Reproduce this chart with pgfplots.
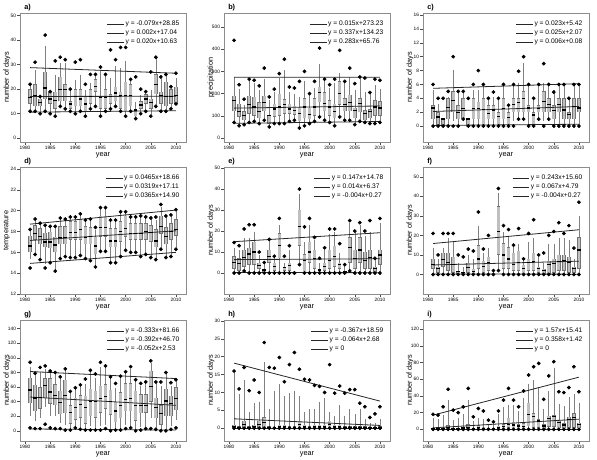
\documentclass[border=0pt]{standalone}
\usepackage{fontspec}
\setmainfont{Liberation Sans}
\usepackage{pgfplots}
\usepackage{pgfplotstable}
\pgfplotsset{compat=1.18}

\newcommand\tickfont{\fontsize{3.6}{4.2}\selectfont}
\newcommand\labfont{\fontsize{5.5}{6.5}\selectfont}
\newcommand\legfont{\fontsize{5}{6}\selectfont}

\pgfplotsset{
 panel/.style={scale only axis, width=124.5pt, xmin=1979, xmax=2012,
   xtick={1980,1985,...,2010}, tick align=outside, tick pos=left,
   major tick length=2pt,
   axis line style={black!45, line width=0.4pt},
   tick style={black!70, line width=0.4pt},
   tick label style={font=\tickfont, inner sep=0.8pt},
   /pgf/number format/1000 sep={}, /pgf/number format/assume math mode=true,
   xlabel={year}, ylabel={number of days},
   every axis x label/.style={at={(axis description cs:0.5,0)}, anchor=center, yshift=-9.75pt, font=\labfont},
   every axis y label/.style={at={(axis description cs:-0.079,0.5)}, rotate=90, anchor=center, font=\labfont},
   every axis title/.style={at={(axis description cs:0,1)}, anchor=south west, font=\bfseries\fontsize{5.5}{6}\selectfont, inner sep=1pt, xshift=2pt},
   legend style={draw=none, fill=none, at={(axis description cs:1,1)}, anchor=north east, xshift=-1pt, yshift=-3pt, font=\legfont, row sep=0pt, nodes={inner sep=0.8pt}},
   legend cell align=left,
   legend image code/.code={\draw[##1] (0pt,0pt) -- (12.5pt,0pt);},
 },
 trend/.style={black!85, line width=0.6pt, mark=none},
 ebonly/.style={draw=none, mark=none, forget plot},
}

\newcommand\drawboxes[1]{%
  % whiskers
  \addplot[ebonly,
    error bars/.cd, y dir=both, y explicit,
    error bar style={draw=black!50, line width=0.4pt},
    error mark options={draw=black!50, line width=0.4pt, mark size=1.15pt}]
    table[x=yr, y=med, y error plus expr=\thisrow{uw}-\thisrow{med}, y error minus expr=\thisrow{med}-\thisrow{lw}] {#1};
  % box outline
  \addplot[ebonly,
    error bars/.cd, y dir=plus, y explicit,
    error mark options={opacity=0, mark size=0pt},
    error bar style={draw=black!55, line width=2.7pt}]
    table[x=yr, y=q1, y error plus expr=\thisrow{q3}-\thisrow{q1}] {#1};
  % box fill
  \addplot[ebonly,
    error bars/.cd, y dir=plus, y explicit,
    error mark options={opacity=0, mark size=0pt},
    error bar style={draw=black!25, line width=2.0pt, shorten <=0.35pt, shorten >=0.35pt}]
    table[x=yr, y=q1, y error plus expr=\thisrow{q3}-\thisrow{q1}] {#1};
  % median
  \addplot[only marks, mark=-, mark size=1.35pt, black, mark options={line width=1pt}, forget plot]
    table[x=yr, y=med] {#1};
  % extreme points
  \addplot[only marks, mark=*, mark size=1.2pt, black, forget plot] table[x=yr, y=hi] {#1};
  \addplot[only marks, mark=*, mark size=1.2pt, black, forget plot] table[x=yr, y=lo] {#1};
}

\pgfplotstableread{
yr lo lw q1 med q3 uw hi
1981 11 12 14 16.5 20 22 22
1982 11 11 13 17.5 22 27 31
1983 10 11 13 14.5 16 17 17
1984 11 11 16 20.5 27 37 42
1985 10 11 14 16 19 19 19
1986 9 10 12 15.5 19 25 31.5
1987 13 13 15 20 25 30 33
1988 12 12 15 20 22 30 32
1989 11 11 12 14 15 20 20
1990 10 10 13 17 20 23 31
1991 11 11 13 16 20 25 32
1992 9 9 11 14 17 19 22
1993 12 12 14 17 20 22 26
1994 13 13 19 21 24 25 26
1995 9 10 12 16.5 17 27 29
1996 11 11 12 16.5 20 26 26
1997 12 12 14 17 18 24 36
1998 13 13 15 18.5 21 29 32
1999 11 11 12 17.5 19 28 37
2000 9 10 11 17.5 23 31 37
2001 11 11 13 17.5 22 24 24
2002 8 8 9 11.5 12 14 25
2003 10 10 12 13.5 15 17 20
2004 11 11 14 16 18 19 19
2005 9 10 12 14.5 16 19 27
2006 13 13 18 22 26 33 33
2007 11 11 14 17.5 19 25 25
2008 11 11 13 17 23 26 26
2009 12 12 14 17 20 21 21
2010 14 14 14 17.5 21 24 26.5
}\dA

\pgfplotstableread{
yr lo lw q1 med q3 uw hi
1981 70 85 120 170 190 270 440
1982 55 65 95 120 155 215 240
1983 60 65 80 100 120 140 175
1984 70 75 110 150 190 250 265
1985 75 75 100 140 185 240 260
1986 65 65 90 120 160 210 235
1987 80 90 120 160 190 260 315
1988 50 55 65 100 105 165 185
1989 65 70 95 130 155 200 220
1990 65 75 100 140 200 265 290
1991 65 70 110 150 175 300 355
1992 75 80 110 130 155 200 230
1993 80 80 105 125 145 190 225
1994 45 55 75 110 135 180 255
1995 55 60 90 140 180 250 300
1996 65 70 85 105 135 200 200
1997 75 80 100 140 180 220 255
1998 95 100 160 205 230 325 405
1999 80 85 120 155 205 250 265
2000 70 75 100 140 170 220 240
2001 55 65 90 120 155 240 265
2002 95 100 150 200 255 285 395
2003 80 80 120 150 180 240 255
2004 80 85 120 160 195 270 315
2005 60 65 90 125 135 210 245
2006 75 80 115 155 180 270 275
2007 70 70 80 110 125 200 270
2008 65 70 90 120 130 205 205
2009 65 70 100 140 170 230 265
2010 70 70 100 135 165 215 260
}\dB

\pgfplotstableread{
yr lo lw q1 med q3 uw hi
1981 0 0 1 2.6 3 5 6
1982 0 0 0 1.3 2 3 4
1983 0 0 0 1 1 1 4
1984 0 0 1 2.7 4 4 5
1985 0 1 2 3.7 5 7.8 10
1986 0 0 1 2 3 5 5
1987 1 1 1 2.5 4 5 5
1988 0 0 0 1 1 1 4
1989 0 0 1 2.5 4 5 6
1990 0 0 1 2.5 3.5 5 8
1991 0 0 0 2.4 4 6 6
1992 0 0 1 1.8 3 4 4
1993 0 0 1 2.3 3 4 4.9
1994 0 0 0 1.4 2 4 4
1995 0 0 1 2.5 4 6 6
1996 0 0 0 1.2 2 3 3
1997 0 1 2 3.1 4 6 6
1998 1 1 2 3.4 4 6 7.9
1999 1 1 2 4 5 8.8 10
2000 0 0 2 2.6 3 6 6
2001 0 0 0 1.6 2 4 4
2002 1 1 2 2.5 3 6 6
2003 0 1 2 3.5 5 6 9
2004 1 1 2 3.1 4 6 6
2005 0 0 1 2.2 3 5 4.9
2006 0 0 2 3.1 4 6 6
2007 0 0 1 2.3 4 6 6
2008 0 0 1 1.7 2 4 4
2009 0 0 1 2.8 4 6 6
2010 0 0 2 2.6 4 6 6
}\dC

\pgfplotstableread{
yr lo lw q1 med q3 uw hi
1981 14.5 15.5 16 16.6 17.6 18 18.2
1982 15.8 16 17.2 17.8 18.6 19 19.2
1983 15.3 15.5 16.8 17.5 18.3 18.8 18.8
1984 14.5 15 16.5 17 17.9 18.5 18.6
1985 15 15.2 16.4 17 18 18.4 18.5
1986 14.2 14.5 16 16.7 17.5 18.2 18.5
1987 15.4 15.5 16.8 17.4 18.5 19.2 19.3
1988 15.6 15.6 16.8 17.4 18.5 19 19.2
1989 15.5 15.6 17.2 17.9 19 19.4 19.4
1990 15.5 15.6 17.2 17.9 19 19.4 19.4
1991 15.7 15.8 17.2 18.2 19.2 19.6 19.7
1992 15.4 15.5 16.8 17.4 18.5 19 19.1
1993 15.2 15.4 16.8 17.5 18.4 19 19.2
1994 14.6 14.8 15.8 16.6 17.5 18 18.4
1995 16.1 16.2 17.5 18.4 19.5 20.2 20.3
1996 16.1 16.2 17.5 18.4 19.5 20.2 20.3
1997 15 15.2 16.5 17.1 18.3 19 19.1
1998 15 15.2 16.5 17.1 18.3 19 19.1
1999 15.6 15.8 17 18 19 19.8 19.9
2000 16.2 16.3 17.5 18.3 19.5 19.8 19.9
2001 16 16 17.2 17.8 18.8 19.4 19.4
2002 16 16 17.2 17.8 18.8 19.4 19.4
2003 15.6 15.8 17.2 17.8 18.8 19.5 19.5
2004 15.8 15.9 17.2 18 18.8 19.4 19.4
2005 15.5 15.6 17 17.9 18.6 19.3 19.3
2006 15.3 15.4 16.5 17.1 18.2 19 19.4
2007 16.3 16.5 17.8 18.5 19.5 20.2 20.6
2008 15.5 15.6 16.8 17.5 18.4 19.4 19.5
2009 15.6 15.7 17.2 18 18.8 19.5 19.6
2010 16.3 16.5 17.6 18.2 19.2 20 20.1
}\dD

\pgfplotstableread{
yr lo lw q1 med q3 uw hi
1981 0 0 2 5 8 11 14.5
1982 0 0 1 4.5 7 10 13
1983 1 1 3 7.5 11 16 21
1984 0 0 4 9 12 16 23
1985 0 0 4 10 15 19 23
1986 0 0 2 3.5 5 8 10
1987 0 0 0 1.5 2 4 5
1988 0 0 5 8 11 15 16
1989 0 0 1 3 5 7 8
1990 0 1 7 13 19 22 26
1991 0 0 1 2.5 3 4 8
1992 0 0 1 3.5 5 10 13
1993 0 0 0 0 0 0 0
1994 4 5 13 22 30 37 40
1995 0 0 0 6 9 14 22
1996 0 0 5 10 15 22 26
1997 0 0 2 7 11 15 17
1998 0 0 0 1.5 2 4 7
1999 0 0 1 3 5 10 12
2000 0 0 2 6 11 18 21
2001 0 0 3 8 13 19 21
2002 0 0 2 4 5 9 14
2003 0 0 0 0.5 1 3 4
2004 1 1 5 12 17 23 25
2005 0 0 2 7 11 19 20
2006 0 0 5 11 17 22 24
2007 0 0 2 6 10 17 20
2008 0 0 2 7.5 11 19 25
2009 0 0 0 2 3 6 7
2010 0 0 4 8.5 11 23 26
}\dE

\pgfplotstableread{
yr lo lw q1 med q3 uw hi
1981 0 0 3 5 8 13 21
1982 0 0 1 3 4 7 10
1983 0 0 4 7.5 11 13 21
1984 0 0 2 6 11 18 21
1985 0 0 1 5 9 16 21
1986 0 0 0 1.5 2 5 10
1987 0 0 0 1 1 3 9
1988 0 0 1 3.5 6 9 13
1989 0 0 0 1.5 3 7 12
1990 0 0 3 8 15 24 32
1991 0 0 1 4 7 10 13
1992 0 0 2 6 9 13 20
1993 0 0 0 0 0 2 2
1994 2 2 10 22 35 41 44
1995 0 0 3 10 16 21 25
1996 0 0 3 8 14 19 23
1997 0 0 2 5 11 15 15
1998 0 0 2 6 12 15 23.5
1999 0 0 0 3 5 8 8
2000 0 0 2 6 8 16 21
2001 0 0 2 6.5 11 18 28
2002 0 0 1 3 4 8 10
2003 0 0 0 2 3 5 11
2004 0 0 0 5 7 15 20
2005 0 0 1 5.5 8 15 22
2006 0 0 2 6.5 10 18 26.5
2007 0 0 2 7 10 18 21
2008 0 0 1 6 9 17 25
2009 0 0 1 3 4 7 13.5
2010 0 0 3 12.5 19 29 37
}\dF

\pgfplotstableread{
yr lo lw q1 med q3 uw hi
1981 4 23 38 56 73 85 94
1982 3 16 27 45 63 77 79
1983 3 20 30 46 60 78 87
1984 9 35 45 62 72 82 89
1985 4 23 37 53 72 80 82
1986 3 22 35 48 64 79 80
1987 3 13 23 39 55 70 74
1988 1 10 24 48 70 83 85
1989 1 3 10 25 35 50 54
1990 4 6 15 32 45 58 59
1991 2 5 18 36 49 60 63
1992 1 2 10 32 48 62 71
1993 1 8 20 40 58 78 83
1994 1 3 18 40 55 71 78
1995 1 8 25 44 62 85 94
1996 3 10 30 47 64 84 89
1997 0 5 22 40 56 72 74
1998 1 3 12 27 40 57 65
1999 1 5 17 35 53 70 75
2000 3 10 27 43 65 79 81
2001 4 8 27 44 65 82 88
2002 0 3 14 35 55 69 70
2003 1 7 24 35 50 60 65
2004 3 7 25 35 50 63 67
2005 3 20 40 61 82 91 96
2006 2 5 17 32 45 66 67
2007 0 2 8 24 35 60 67
2008 0 5 20 41 58 76 80
2009 2 8 20 37 48 60 66
2010 4 17 28 44 60 70 70
}\dG

\pgfplotstableread{
yr lo lw q1 med q3 uw hi
1981 0 0 0 0.5 1 15 16
1982 0 0 0 0 0.5 9 11
1983 0 0 0 1 2 13 17
1984 0 0 0 0 0.5 4 10.5
1985 0 0 0 0.5 1 6.5 13.5
1986 0 0 0 1 2 7 10
1987 0 0 0 1.5 3 18 24
1988 0 0 0 0 0.5 5 17
1989 0 0 0 0 0 10 16.8
1990 0 0 0 0.5 1 12 19.8
1991 0 0 0 0.5 1 8.5 13
1992 0 0 0 0 0.5 9.5 17.8
1993 0 0 0 0 0.5 10 21.2
1994 0 0 0 1 2 8.5 16.5
1995 0 0 0 0.5 1 4 13.7
1996 0 0 0 0 0.5 5 13.5
1997 0 0 0 0.5 1 5 12
1998 0 0 0 0.5 1 7 11.7
1999 0 0 0 0.5 1 8 10
2000 0 0 0 1 2 4 17.8
2001 0 0 0 0.5 1 3 9.8
2002 0 0 0 0.5 1 6 11.8
2003 0 0 0 0 0.5 3 9.8
2004 0 0 0 0 0.5 5 10.8
2005 0 0 0 0 0.5 3.5 10.8
2006 0 0 0 0 0.5 5 7
2007 0 0 0 0 0.5 2 6
2008 0 0 0 0 0 1 3
2009 0 0 0 0 0 1 4
2010 0 0 0 0 0.5 2 6
}\dH

\pgfplotstableread{
yr lo lw q1 med q3 uw hi
1981 0 0 0 1 2 12 18
1982 0 0 0 0.5 1 10 17
1983 0 0 0 1 2 15 27
1984 0 0 0 2 5 33 48
1985 0 0 0 1 2 9 23
1986 0 0 0 1 2 12 20
1987 0 0 0 1.5 3 16 27
1988 0 0 0 2 6 33 49
1989 0 0 0 1 2 8 15
1990 0 0 0 2 5 12 25
1991 0 0 0 1 3 10 22
1992 0 0 0 1 2 5 11
1993 0 0 0 0.5 1 5 9
1994 0 0 0 2 4 17 22
1995 0 0 0 3 6 25 35
1996 0 0 2 6 14 27 49
1997 0 0 1 5 9 27 35
1998 0 0 1 4 6 20 27
1999 0 0 0 3 7 36 46
2000 0 0 4 18 32 53 65
2001 0 0 2 15 19 57 75
2002 0 0 2 10 12 49 79
2003 0 0 0 4 6 23 36
2004 0 0 3 13 16 44 64
2005 0 0 3 15 17 72 81
2006 0 0 1 8 10 29 45
2007 0 0 1 5 7 26 44
2008 0 0 2 12 15 37 50
2009 0 0 2 14 19 40 75
2010 0 0 1 6 8 30 45
}\dI

\begin{document}
\begin{tikzpicture}
% ---------- row 1 ----------
\begin{axis}[panel, at={(15pt,-9.75pt)}, anchor=north west, height=96.75pt,
  ymin=-1.5, ymax=51, ytick={0,10,...,50}, title={a)}]
\drawboxes{\dA}
\addplot[trend] coordinates {(1981,28.77) (2010,26.48)}; \addlegendentry{y = -0.079x+28.85}
\addplot[trend] coordinates {(1981,17.04) (2010,17.10)}; \addlegendentry{y = 0.002x+17.04}
\addplot[trend] coordinates {(1981,10.65) (2010,11.23)}; \addlegendentry{y = 0.020x+10.63}
\end{axis}

\begin{axis}[panel, at={(168pt,-9.75pt)}, anchor=north west, height=96.75pt,
  ymin=-18, ymax=563, ytick={0,100,...,500}, ylabel={precipitation}, title={b)}]
\drawboxes{\dB}
\addplot[trend] coordinates {(1981,273.25) (2010,273.68)}; \addlegendentry{y = 0.015x+273.23}
\addplot[trend] coordinates {(1981,134.57) (2010,144.34)}; \addlegendentry{y = 0.337x+134.23}
\addplot[trend] coordinates {(1981,66.04) (2010,74.25)}; \addlegendentry{y = 0.283x+65.76}
\end{axis}

\begin{axis}[panel, at={(317.25pt,-9.75pt)}, anchor=north west, height=96.75pt,
  ymin=-2.3, ymax=16.3, ytick={0,2,...,16}, title={c)}]
\drawboxes{\dC}
\addplot[trend] coordinates {(1981,5.44) (2010,6.11)}; \addlegendentry{y = 0.023x+5.42}
\addplot[trend] coordinates {(1981,2.10) (2010,2.82)}; \addlegendentry{y = 0.025x+2.07}
\addplot[trend] coordinates {(1981,0.09) (2010,0.26)}; \addlegendentry{y = 0.006x+0.08}
\end{axis}

% ---------- row 2 ----------
\begin{axis}[panel, at={(15pt,-125.25pt)}, anchor=north west, height=95.25pt,
  ymin=12, ymax=24.2, ytick={12,14,...,24}, ylabel={temperature}, title={d)}]
\drawboxes{\dD}
\addplot[trend] coordinates {(1981,18.71) (2010,20.06)}; \addlegendentry{y = 0.0465x+18.66}
\addplot[trend] coordinates {(1981,17.14) (2010,18.07)}; \addlegendentry{y = 0.0319x+17.11}
\addplot[trend] coordinates {(1981,14.94) (2010,16.00)}; \addlegendentry{y = 0.0365x+14.90}
\end{axis}

\begin{axis}[panel, at={(168pt,-125.25pt)}, anchor=north west, height=95.25pt,
  ymin=-10, ymax=50.5, ytick={0,10,...,50}, title={e)}]
\drawboxes{\dE}
\addplot[trend] coordinates {(1981,14.93) (2010,19.19)}; \addlegendentry{y = 0.147x+14.78}
\addplot[trend] coordinates {(1981,6.38) (2010,6.79)}; \addlegendentry{y = 0.014x+6.37}
\addplot[trend] coordinates {(1981,0.27) (2010,0.15)}; \addlegendentry{y = -0.004x+0.27}
\end{axis}

\begin{axis}[panel, at={(317.25pt,-125.25pt)}, anchor=north west, height=95.25pt,
  ymin=-10, ymax=55, ytick={0,10,...,50}, title={f)}]
\drawboxes{\dF}
\addplot[trend] coordinates {(1981,15.84) (2010,22.89)}; \addlegendentry{y = 0.243x+15.60}
\addplot[trend] coordinates {(1981,4.86) (2010,6.80)}; \addlegendentry{y = 0.067x+4.79}
\addplot[trend] coordinates {(1981,0.27) (2010,0.15)}; \addlegendentry{y = -0.004x+0.27}
\end{axis}

% ---------- row 3 ----------
\begin{axis}[panel, at={(15pt,-240pt)}, anchor=north west, height=90.75pt,
  ymin=-14, ymax=152, ytick={0,20,...,140}, title={g)}]
\drawboxes{\dG}
\addplot[trend] coordinates {(1981,81.33) (2010,71.67)}; \addlegendentry{y = -0.333x+81.66}
\addplot[trend] coordinates {(1981,46.31) (2010,34.94)}; \addlegendentry{y = -0.392x+46.70}
\addplot[trend] coordinates {(1981,2.48) (2010,0.97)}; \addlegendentry{y = -0.052x+2.53}
\end{axis}

\begin{axis}[panel, at={(168pt,-240pt)}, anchor=north west, height=90.75pt,
  ymin=-3.6, ymax=30.3, ytick={0,5,...,30}, title={h)}]
\drawboxes{\dH}
\addplot[trend] coordinates {(1981,18.22) (2010,7.58)}; \addlegendentry{y = -0.367x+18.59}
\addplot[trend] coordinates {(1981,2.62) (2010,0.76)}; \addlegendentry{y = -0.064x+2.68}
\addplot[trend] coordinates {(1981,0) (2010,0)}; \addlegendentry{y = 0}
\end{axis}

\begin{axis}[panel, at={(317.25pt,-240pt)}, anchor=north west, height=90.75pt,
  ymin=-14, ymax=131, ytick={0,20,...,120}, title={i)}]
\drawboxes{\dI}
\addplot[trend] coordinates {(1981,16.98) (2010,62.51)}; \addlegendentry{y = 1.57x+15.41}
\addplot[trend] coordinates {(1981,1.78) (2010,12.16)}; \addlegendentry{y = 0.358x+1.42}
\addplot[trend] coordinates {(1981,0) (2010,0)}; \addlegendentry{y = 0}
\end{axis}

\pgfresetboundingbox
\useasboundingbox (0,0) rectangle (447.75pt,-345pt);
\end{tikzpicture}
\end{document}
